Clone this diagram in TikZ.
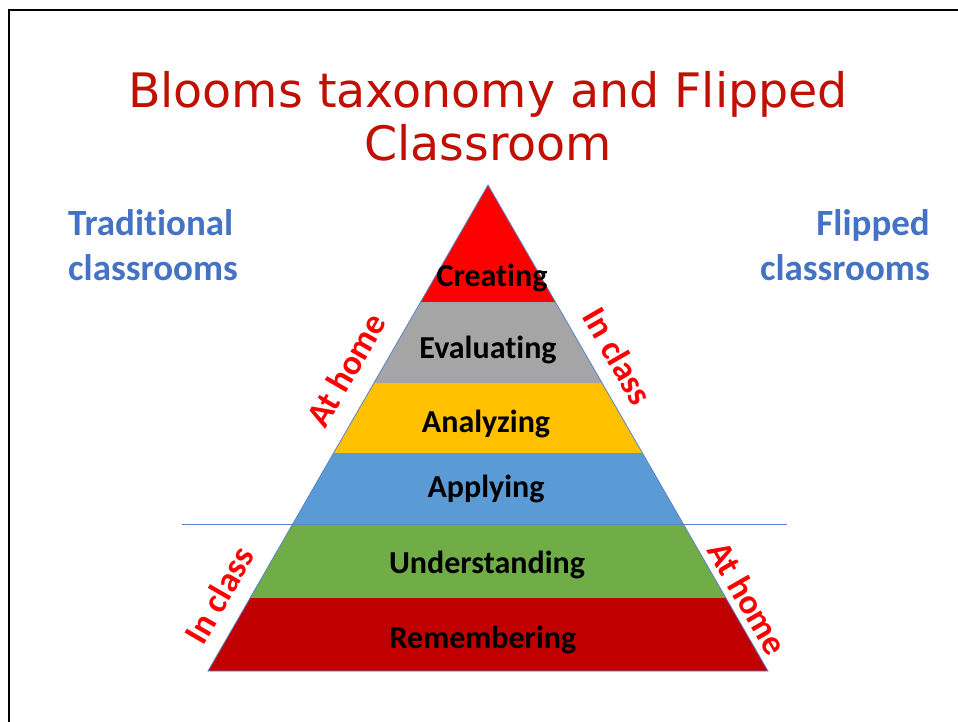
\documentclass[tikz,border=0pt]{standalone}
\usepackage{fontspec}
\setmainfont{Carlito}[Ligatures=NoCommon]
\newfontfamily\titlefont{DejaVu Sans}
\definecolor{titlered}{RGB}{192,16,4}
\definecolor{sideblue}{RGB}{68,114,196}
\definecolor{edgeblue}{RGB}{90,130,205}
\definecolor{creatingc}{RGB}{255,0,0}
\definecolor{evaluatingc}{RGB}{165,165,165}
\definecolor{analyzingc}{RGB}{255,192,0}
\definecolor{applyingc}{RGB}{91,155,213}
\definecolor{understandingc}{RGB}{112,173,71}
\definecolor{rememberingc}{RGB}{192,0,0}

\tikzset{
	layerlabel/.style={font=\fontsize{32}{38}\selectfont\bfseries, text=black, inner sep=0pt},
	sidelabel/.style={font=\fontsize{37}{45}\selectfont\bfseries, text=sideblue, inner sep=0pt},
	edgelabel/.style={font=\fontsize{35}{42}\selectfont\bfseries, text=creatingc, inner sep=0pt}
}

\begin{document}
\begin{tikzpicture}[x=1pt, y=-1pt]
	\useasboundingbox (0,0) rectangle (958,722);
	\draw[line width=2.5pt] (9,10) rectangle (990,760);
	% title
	\node[font=\titlefont\fontsize{47.5}{53}\selectfont, text=titlered, align=center, inner sep=0pt] (title) at (488,116) {Blooms taxonomy and Flipped\\Classroom};
	\node[sidelabel, align=left, anchor=west] (trad) at (68,245) {Traditional\\classrooms};
	\node[sidelabel, align=right, anchor=east] (flip) at (930,245) {Flipped\\classrooms};
	% pyramid
	\coordinate (apex) at (488,185);
	\coordinate (bl) at (208,671);
	\coordinate (br) at (768,671);
	\fill[creatingc] (apex) -- (420.6,302) -- (555.4,302) -- cycle;
	\fill[evaluatingc] (420.6,302) -- (373.9,383) -- (602.1,383) -- (555.4,302) -- cycle;
	\fill[analyzingc] (373.9,383) -- (333.6,453) -- (642.4,453) -- (602.1,383) -- cycle;
	\fill[applyingc] (333.6,453) -- (292.7,524) -- (683.3,524) -- (642.4,453) -- cycle;
	\fill[understandingc] (292.7,524) -- (250.1,598) -- (725.9,598) -- (683.3,524) -- cycle;
	\fill[rememberingc] (250.1,598) -- (bl) -- (br) -- (725.9,598) -- cycle;
	\draw[edgeblue, line width=0.8pt] (apex) -- (bl) -- (br) -- cycle;
	\coordinate (splitl) at (182,524);
	\coordinate (splitr) at (787,524);
	\draw[edgeblue, line width=1pt] (splitl) -- (splitr);
	% levels
	\node[layerlabel] (creating) at (492,278) {Creating};
	\node[layerlabel] (evaluating) at (488,350) {Evaluating};
	\node[layerlabel] (analyzing) at (486,424) {Analyzing};
	\node[layerlabel] (applying) at (486,489) {Applying};
	\node[layerlabel] (understanding) at (487,565) {Understanding};
	\node[layerlabel] (remembering) at (483,640) {Remembering};
	% where it happens
	\node[edgelabel, rotate=60] (homeup) at (346,370) {At home};
	\node[edgelabel, rotate=-60] (classup) at (618,356) {In class};
	\node[edgelabel, rotate=60] (classdown) at (219,595) {In class};
	\node[edgelabel, rotate=-60] (homedown) at (748,598) {At home};
\end{tikzpicture}
\end{document}
